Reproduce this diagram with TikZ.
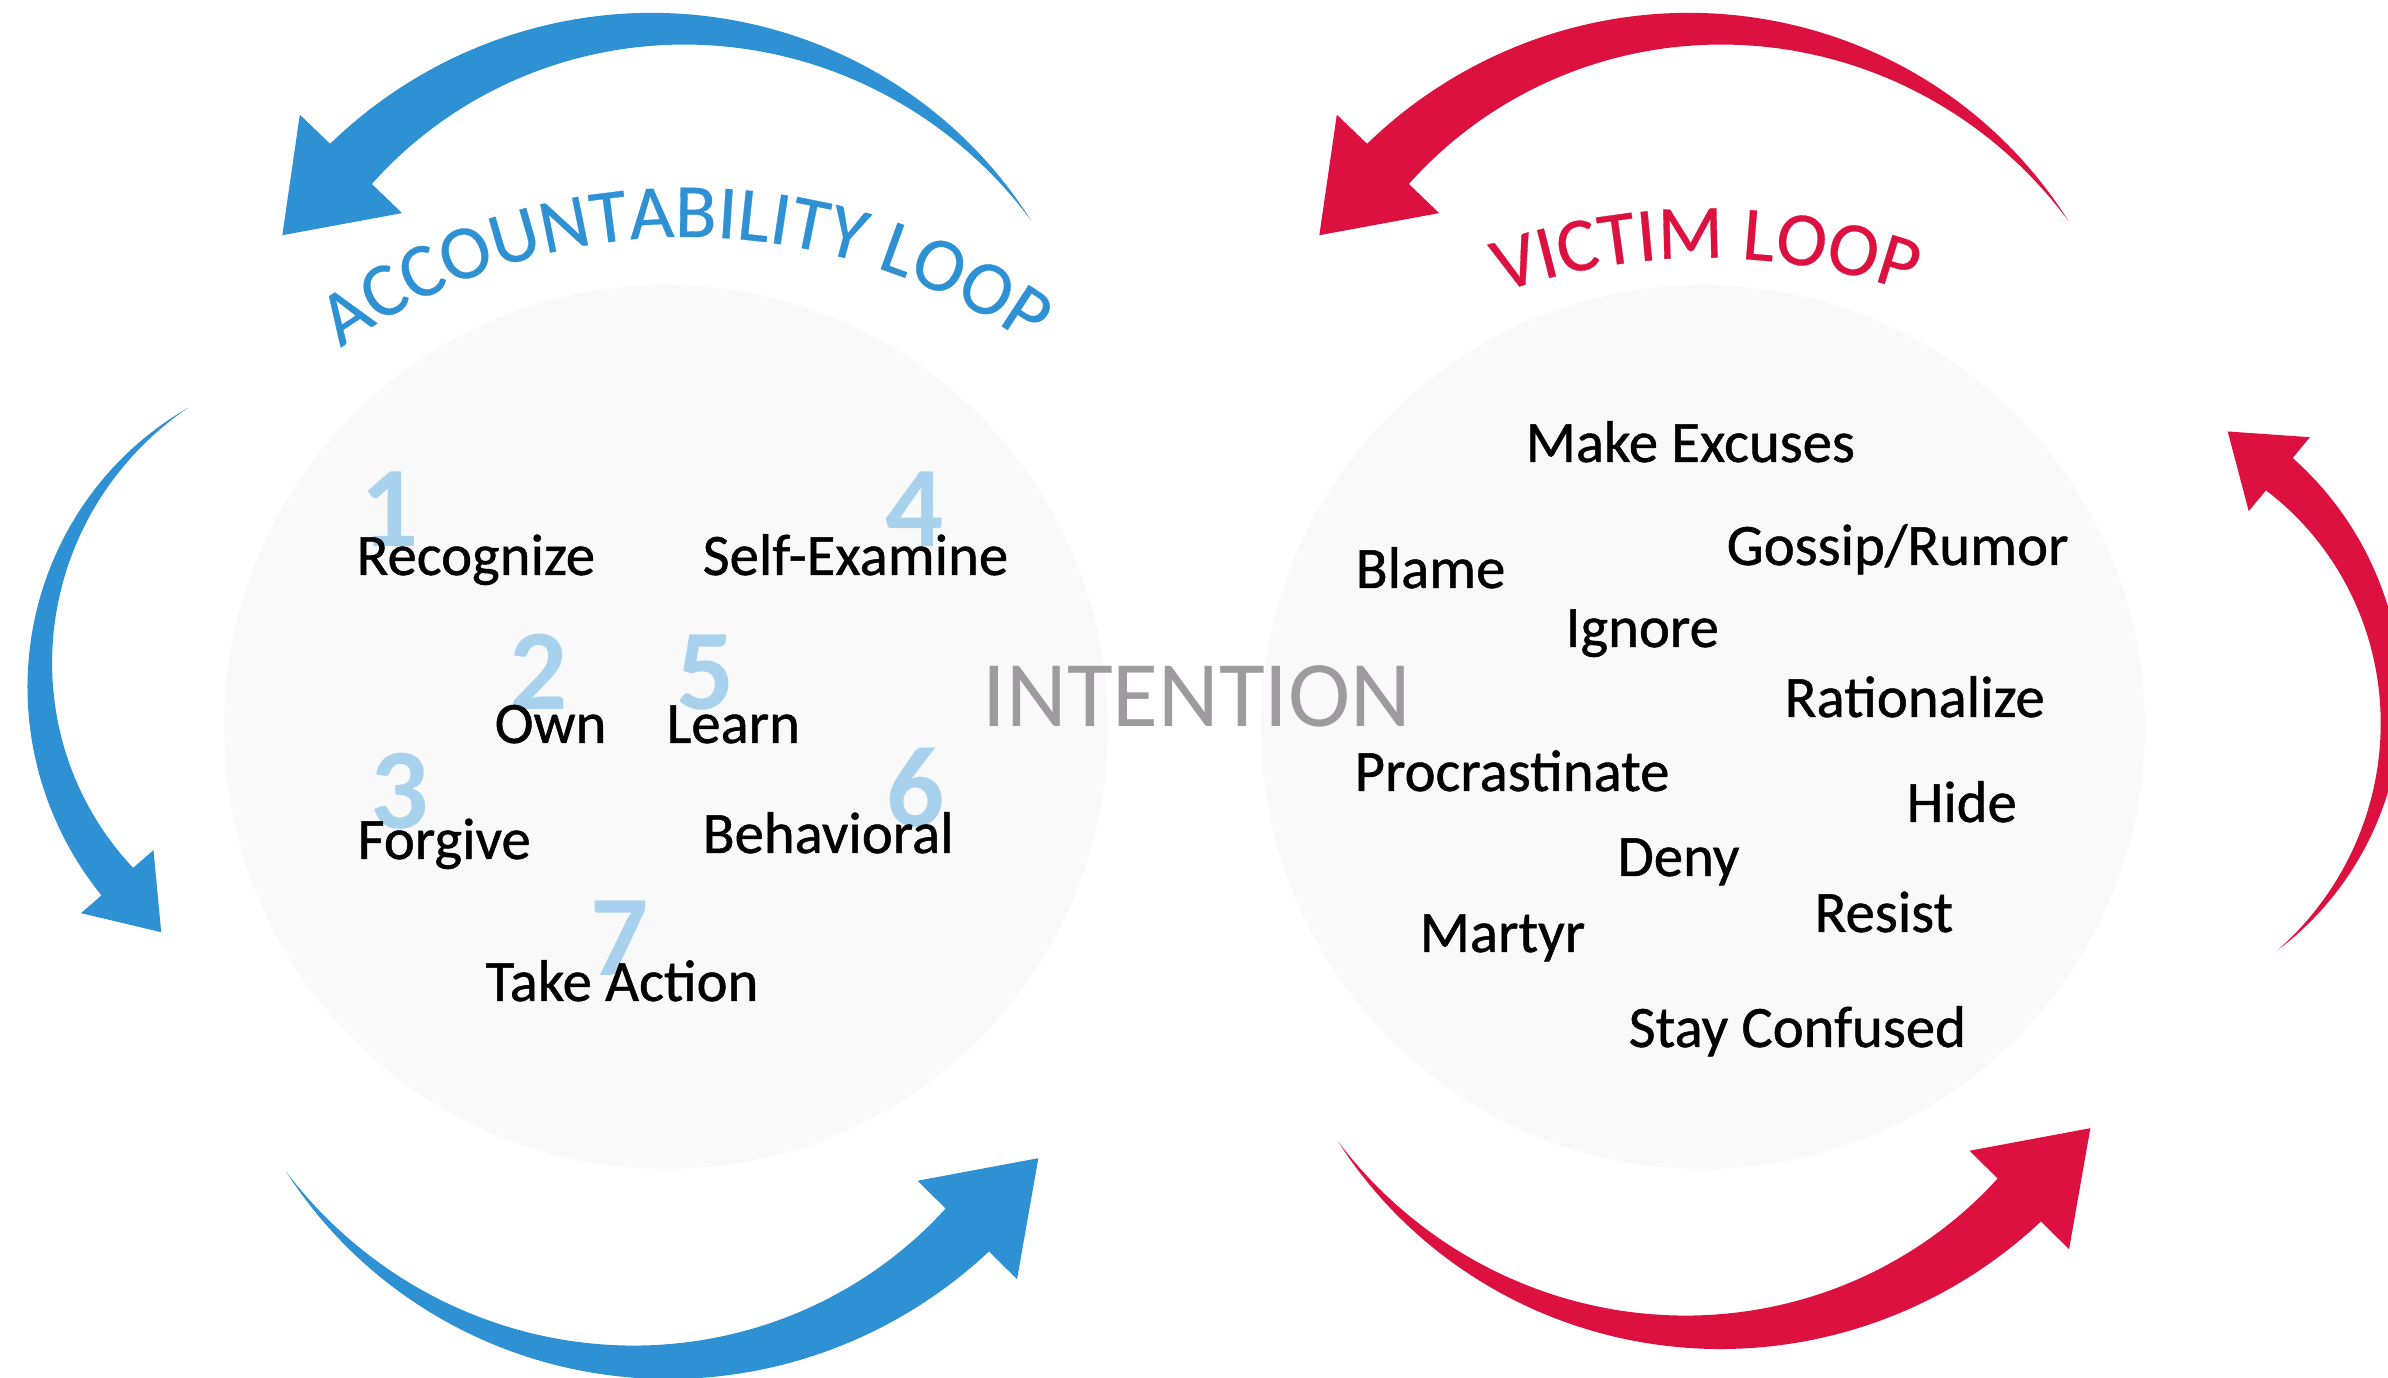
\documentclass[tikz,border=0pt]{standalone}
\usepackage{fontspec}
\setmainfont{Carlito}
\newfontfamily\wordfam{Carlito}[FakeBold=0.8]
\newfontfamily\titlefam{Carlito}[FakeBold=0.4]
\definecolor{accblue}{RGB}{46,145,212}
\definecolor{victimred}{RGB}{221,17,64}
\definecolor{numblue}{RGB}{168,209,237}
\definecolor{circlegray}{RGB}{249,249,249}
\definecolor{intentgray}{RGB}{158,155,158}
\usepackage{tikz}
\usetikzlibrary{calc,decorations.text}

\newcommand{\wordfont}{\wordfam\fontsize{16.7}{19}\selectfont}
\newcommand{\numfont}{\fontsize{32.7}{38}\selectfont\bfseries}
\newcommand{\intentfont}{\fontsize{26.7}{32}\selectfont}
\newcommand{\loopfont}{\titlefam\fontsize{21.8}{25}\selectfont}

% tapered arrow on an arc: colour, centre x, centre y, radius, tail angle, neck angle, neck width, head half width, head length
\newcommand{\looparrow}[9]{%
  \fill[#1] plot[domain=#5:#6, samples=90]
      ({#2+(#4+#7*(\x-(#5))/((#6)-(#5))/2)*cos(\x)}, {#3+(#4+#7*(\x-(#5))/((#6)-(#5))/2)*sin(\x)})
    -- ($(#2,#3)+(#6:#4+#8)$) -- ($(#2,#3)+(#6:#4)+(#6+90:#9)$) -- ($(#2,#3)+(#6:#4-#8)$)
    -- plot[domain=#6:#5, samples=90]
      ({#2+(#4-#7*(\x-(#5))/((#6)-(#5))/2)*cos(\x)}, {#3+(#4-#7*(\x-(#5))/((#6)-(#5))/2)*sin(\x)})
    -- cycle;}

\tikzset{
  word/.style={inner sep=0pt, anchor=base west, font=\wordfont},
  stepnum/.style={inner sep=0pt, anchor=base, font=\numfont, text=numblue},
  loopcircle/.style={fill=circlegray}
}

\begin{document}
\begin{tikzpicture}
  \useasboundingbox (0,0) rectangle (23.88,13.78);
  \clip (0,0) rectangle (23.88,13.78);
  \fill[loopcircle] (6.66,6.51) circle (4.42);
  \fill[loopcircle] (17.03,6.51) circle (4.42);
  % accountability loop arrows
  \looparrow{accblue}{6.68}{9.09}{4.40}{34.3}{136.1}{0.58}{0.71}{0.99}
  \looparrow{accblue}{3.55}{7.03}{3.15}{122}{221}{0.42}{0.48}{0.67}
  \looparrow{accblue}{6.51}{4.61}{4.45}{214.9}{315.3}{0.61}{0.70}{1.01}
  % victim loop arrows
  \looparrow{victimred}{17.05}{9.09}{4.40}{34.3}{136.1}{0.58}{0.71}{0.99}
  \looparrow{victimred}{17.03}{4.91}{4.45}{214.9}{315.3}{0.61}{0.70}{1.01}
  \looparrow{victimred}{20.83}{6.665}{3.08}{-50.7}{50.4}{0.42}{0.48}{0.67}
  % titles on arcs
  \path[decorate, decoration={text along path, text color=accblue, text align=center,
      text={|\loopfont|ACCOUNTABILITY LOOP}}]
    ($(6.875,5.44)+(130:5.97)$) arc[start angle=130, end angle=50.5, radius=5.97];
  \path[decorate, decoration={text along path, text color=victimred, text align=center,
      text={|\loopfont|VICTIM LOOP}}]
    ($(17.06,4.95)+(115:6.25)$) arc[start angle=115, end angle=65, radius=6.25];

  \node[stepnum] (n1) at (3.90,8.31) {1};
  \node[stepnum] (n2) at (5.39,6.68) {2};
  \node[stepnum] (n3) at (4.00,5.49) {3};
  \node[stepnum] (n4) at (9.15,8.31) {4};
  \node[stepnum] (n5) at (7.06,6.68) {5};
  \node[stepnum] (n6) at (9.16,5.51) {6};
  \node[stepnum] (n7) at (6.20,4.02) {7};

  \node[word] (recognize) at (3.56,8.03) {Recognize};
  \node[word] (selfexam) at (7.02,8.03) {Self-Examine};
  \node[word] (own) at (4.94,6.35) {Own};
  \node[word] (learn) at (6.66,6.35) {Learn};
  \node[word] (forgive) at (3.57,5.19) {Forgive};
  \node[word] (behavioral) at (7.02,5.25) {Behavioral};
  \node[word] (takeaction) at (4.85,3.77) {Take Action};

  \node[inner sep=0pt, anchor=base, font=\intentfont, text=intentgray] (intention) at (11.97,6.51) {INTENTION};

  \node[word] (excuses) at (15.25,9.16) {Make Excuses};
  \node[word] (gossip) at (17.26,8.13) {Gossip/Rumor};
  \node[word] (blame) at (13.55,7.90) {Blame};
  \node[word] (ignore) at (15.65,7.31) {Ignore};
  \node[word] (rationalize) at (17.84,6.61) {Rationalize};
  \node[word] (procrastinate) at (13.54,5.87) {Procrastinate};
  \node[word] (hide) at (19.06,5.56) {Hide};
  \node[word] (deny) at (16.17,5.02) {Deny};
  \node[word] (resist) at (18.14,4.46) {Resist};
  \node[word] (martyr) at (14.19,4.26) {Martyr};
  \node[word] (confused) at (16.28,3.31) {Stay Confused};
\end{tikzpicture}
\end{document}
